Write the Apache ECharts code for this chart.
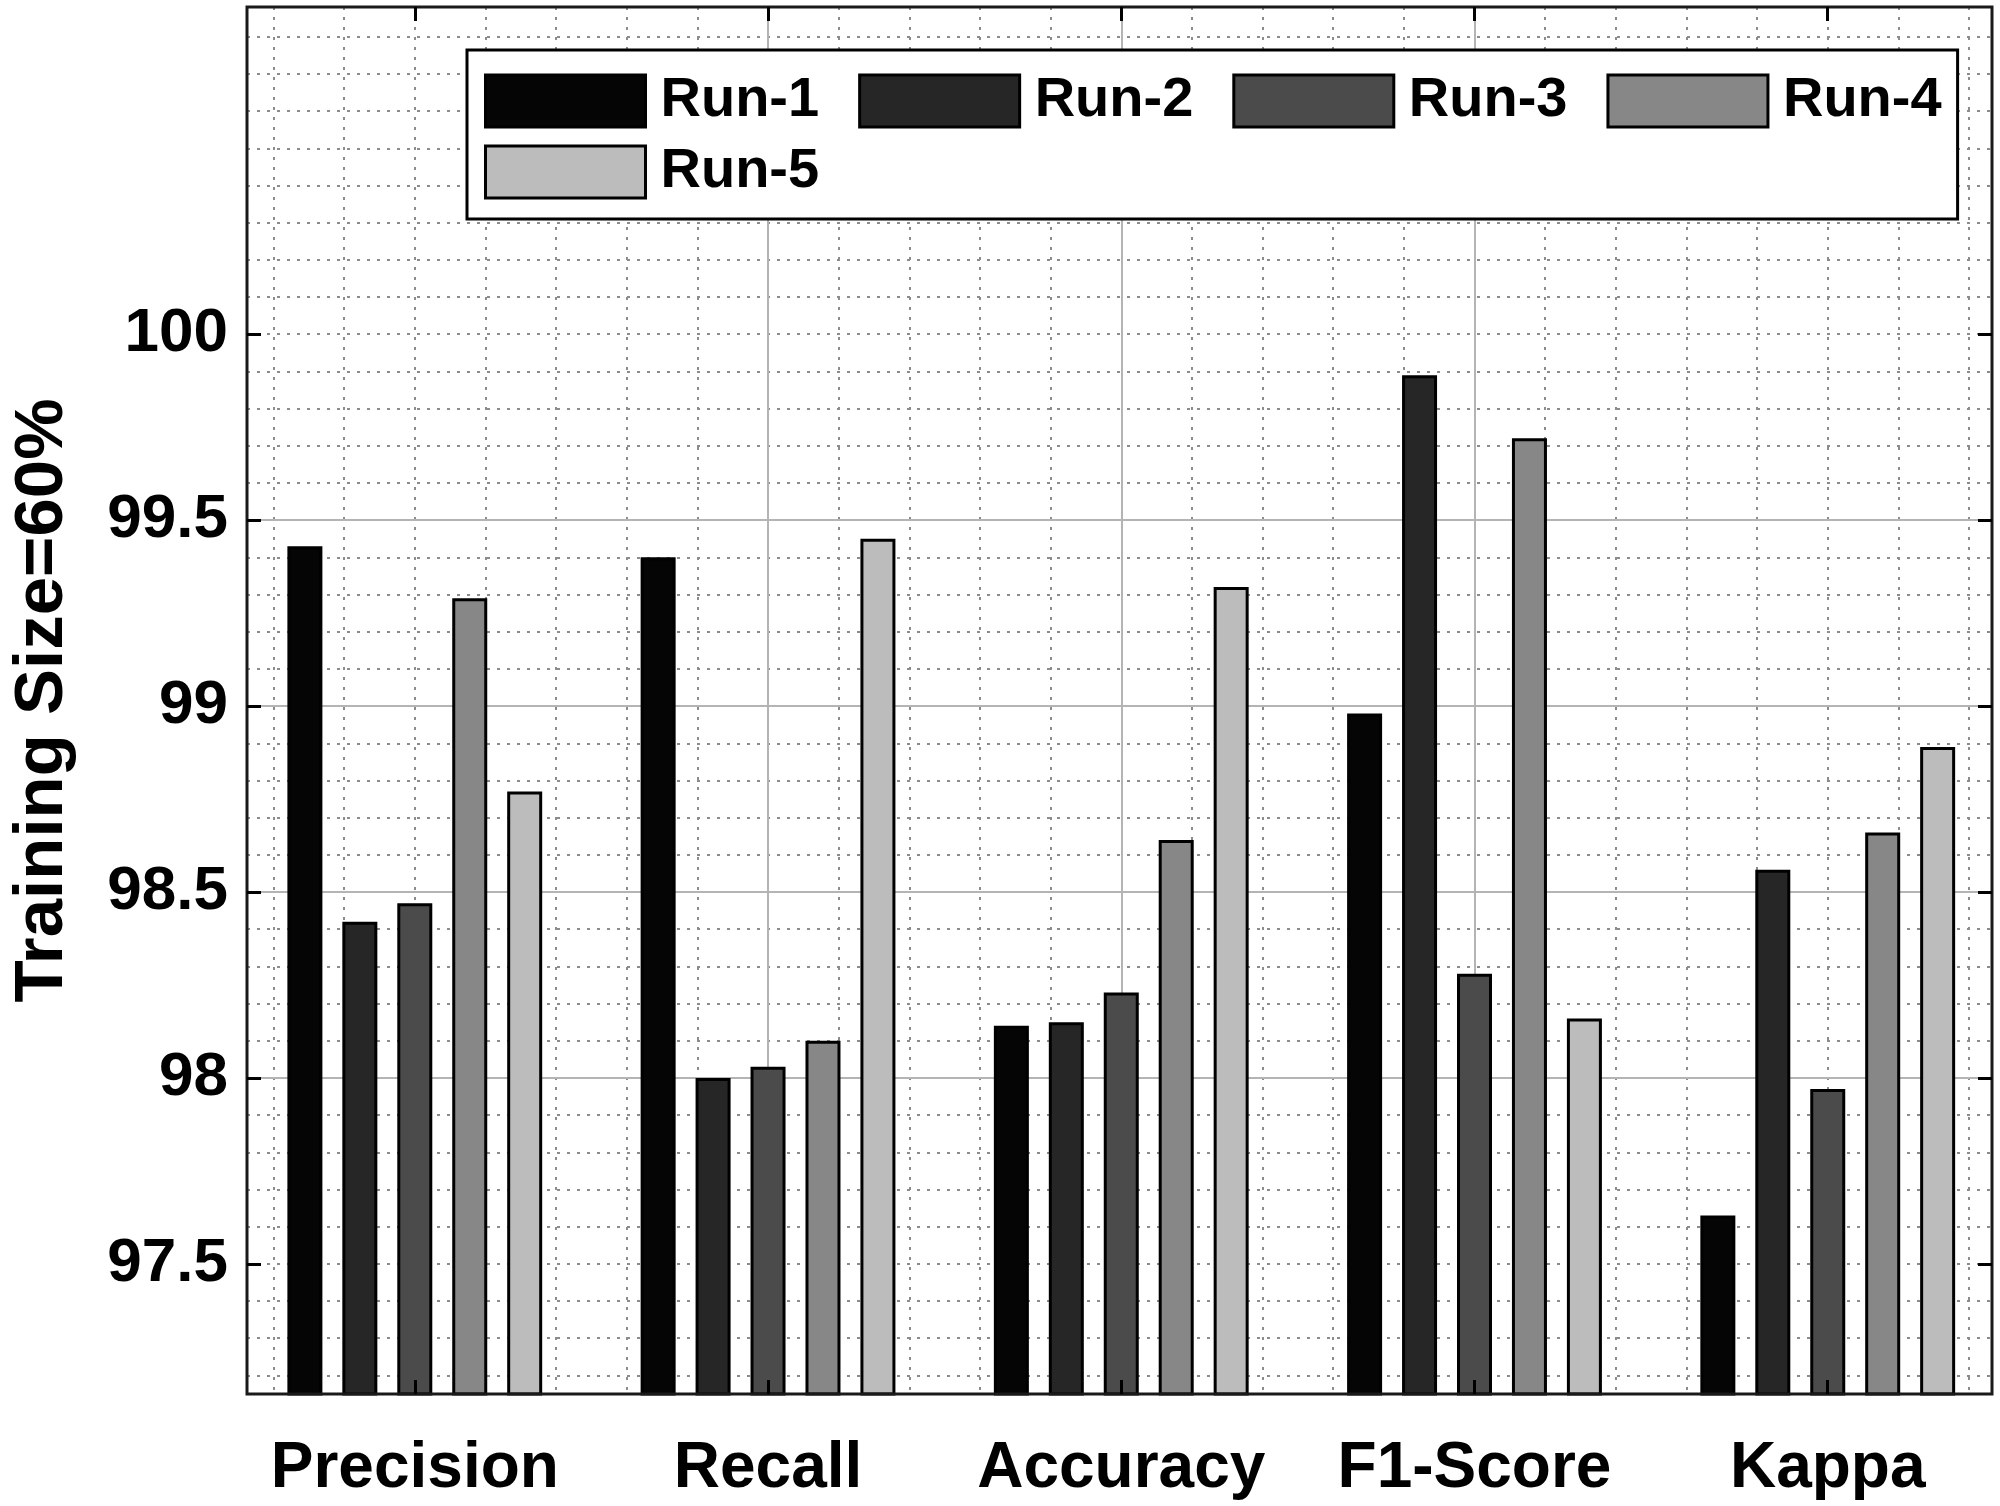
<!DOCTYPE html>
<html>
<head>
<meta charset="utf-8">
<title>Training Size=60%</title>
<script src="https://cdn.jsdelivr.net/npm/echarts@6/dist/echarts.min.js"></script>
<style>
  html, body { margin: 0; padding: 0; background: #fff; }
  #main { width: 2000px; height: 1506px; }
</style>
</head>
<body>
<div id="main"></div>
<script>
// data
const categories = ["Precision", "Recall", "Accuracy", "F1-Score", "Kappa"];
const runNames = ["Run-1", "Run-2", "Run-3", "Run-4", "Run-5"];
const run1 = [99.43, 99.40, 98.14, 98.98, 97.63];
const run2 = [98.42, 98.00, 98.15, 99.89, 98.56];
const run3 = [98.47, 98.03, 98.23, 98.28, 97.97];
const run4 = [99.29, 98.10, 98.64, 99.72, 98.66];
const run5 = [98.77, 99.45, 99.32, 98.16, 98.89];
const yTicks = [97.5, 98, 98.5, 99, 99.5, 100];
const yTitle = "Training Size=60%";

const runValues = [run1, run2, run3, run4, run5];
const runColors = ["#050505", "#262626", "#4b4b4b", "#878787", "#bcbcbc"];
const catTicks = categories.map((c, i) => i + 1);
const font = "'Liberation Sans', Arial, Helvetica, sans-serif";
const yMin = 97.15, yMax = 100.88, xMin = 0.525, xMax = 5.465;

const myChart = echarts.init(document.getElementById("main"));

const minorSplit = {
  show: true,
  showMinLine: false,
  showMaxLine: false,
  lineStyle: { color: "#8c8c8c", width: 2, type: [3, 7] }
};
const majorSplit = {
  show: true,
  showMinLine: false,
  showMaxLine: false,
  lineStyle: { color: "#b4b4b4", width: 2 }
};
const hidden = { show: false };

function tickAxis(extra, values) {
  return Object.assign(
    {
      type: "value",
      axisLine: hidden,
      axisLabel: hidden,
      splitLine: hidden,
      axisTick: {
        show: true,
        inside: true,
        length: 14,
        customValues: values,
        lineStyle: { color: "#000", width: 3 }
      },
      z: 10
    },
    extra
  );
}

const legendText = {
  fontSize: 56,
  fontWeight: "bold",
  color: "#000",
  fontFamily: font,
  lineHeight: 52,
  padding: [0, 0, 0, 10]
};

const option = {
  animation: false,
  backgroundColor: "#fff",
  grid: {
    left: 242,
    top: 7,
    width: 1750,
    height: 1387,
    show: true,
    borderColor: "#1a1a1a",
    borderWidth: 3,
    backgroundColor: "transparent",
    z: 5
  },
  legend: [
    {
      data: runNames.slice(0, 4),
      left: 467,
      top: 50,
      orient: "horizontal",
      padding: [23, 16, 90, 17],
      itemWidth: 160,
      itemHeight: 52,
      itemGap: 39,
      icon: "rect",
      borderColor: "#000",
      borderWidth: 3,
      backgroundColor: "#fff",
      itemStyle: { borderColor: "#000", borderWidth: 3 },
      textStyle: legendText,
      selectedMode: false
    },
    {
      data: runNames.slice(4),
      left: 484,
      top: 144,
      padding: 0,
      itemWidth: 160,
      itemHeight: 52,
      icon: "rect",
      borderWidth: 0,
      backgroundColor: "transparent",
      itemStyle: { borderColor: "#000", borderWidth: 3 },
      textStyle: legendText,
      selectedMode: false
    }
  ],
  xAxis: [
    {
      type: "value",
      min: xMin,
      max: xMax,
      position: "bottom",
      axisLine: hidden,
      axisTick: { show: false, customValues: catTicks },
      axisLabel: {
        customValues: catTicks,
        formatter: (v) => categories[Math.round(v) - 1] || "",
        fontSize: 64,
        fontWeight: "bold",
        color: "#000",
        fontFamily: font,
        margin: 43
      },
      splitLine: majorSplit,
      z: 1
    },
    {
      type: "value",
      min: xMin,
      max: xMax,
      position: "bottom",
      minInterval: 0.2,
      maxInterval: 0.2,
      splitNumber: 25,
      axisLine: hidden,
      axisTick: hidden,
      axisLabel: hidden,
      splitLine: minorSplit,
      z: 0
    },
    tickAxis({ min: xMin, max: xMax, position: "bottom" }, catTicks),
    tickAxis({ min: xMin, max: xMax, position: "top" }, catTicks)
  ],
  yAxis: [
    {
      type: "value",
      min: yMin,
      max: yMax,
      position: "left",
      axisLine: hidden,
      axisTick: { show: false, customValues: yTicks },
      axisLabel: {
        customValues: yTicks,
        fontSize: 62,
        fontWeight: "bold",
        color: "#000",
        fontFamily: font,
        margin: 19
      },
      splitLine: majorSplit,
      name: yTitle,
      nameLocation: "middle",
      nameRotate: 90,
      nameGap: 170,
      nameTextStyle: {
        fontSize: 69,
        fontWeight: "bold",
        color: "#000",
        fontFamily: font
      },
      z: 1
    },
    {
      type: "value",
      min: yMin,
      max: yMax,
      position: "left",
      minInterval: 0.1,
      maxInterval: 0.1,
      splitNumber: 40,
      axisLine: hidden,
      axisTick: hidden,
      axisLabel: hidden,
      splitLine: minorSplit,
      z: 0
    },
    tickAxis({ min: yMin, max: yMax, position: "left" }, yTicks),
    tickAxis({ min: yMin, max: yMax, position: "right" }, yTicks)
  ],
  series: runNames.map(function (name, k) {
    return {
      name: name,
      type: "bar",
      xAxisIndex: 0,
      yAxisIndex: 0,
      data: runValues[k].map((v, i) => [catTicks[i], v]),
      barWidth: 35,
      barGap: "57%",
      clip: true,
      itemStyle: {
        color: runColors[k],
        borderColor: "#000",
        borderWidth: 3
      },
      emphasis: { disabled: true }
    };
  })
};

myChart.setOption(option);
</script>
</body>
</html>
